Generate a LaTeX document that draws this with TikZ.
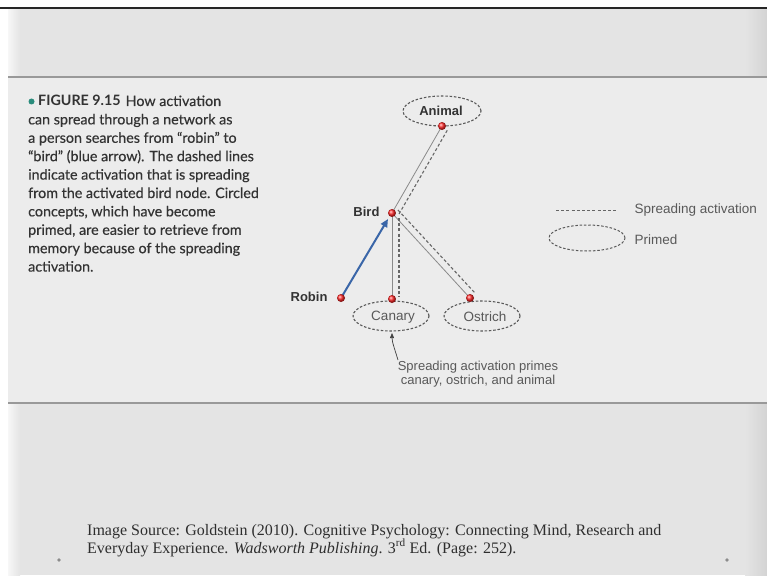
\documentclass[tikz,border=0pt]{standalone}
\usepackage{fontspec}
\setmainfont{Liberation Serif}
\setsansfont{Liberation Sans}
\newfontfamily\capfont[UprightFeatures={FakeBold=0.4}]{Lato}
\usetikzlibrary{arrows.meta,shapes.geometric,calc}
\definecolor{slidebg}{HTML}{E4E4E4}
\definecolor{panelbg}{HTML}{ECECEC}
\definecolor{captxt}{HTML}{333333}
\definecolor{teal}{HTML}{2A8C7C}
\definecolor{arrowblue}{HTML}{3A66A8}
\definecolor{linegray}{HTML}{8A8A8A}
\begin{document}
\begin{tikzpicture}[x=1pt,y=-1pt,
  capline/.style={anchor=base west,inner sep=0pt,text=captxt,font=\capfont\fontsize{14.3}{16}\selectfont},
  srcline/.style={anchor=base west,inner sep=0pt,text=captxt!90!black,font=\rmfamily\fontsize{16}{18}\selectfont},
  ball/.style={circle,inner sep=0pt,minimum size=8pt,shading=ball,ball color=red!85!white},
  boldlbl/.style={font=\sffamily\bfseries\fontsize{13}{15}\selectfont,text=black!80},
  lbl/.style={font=\sffamily\fontsize{13.5}{15}\selectfont,text=black!65},
  primed/.style={ellipse,draw=black!65,dashed,dash pattern=on 2.5pt off 1.8pt,line width=1.1pt,inner sep=0pt},
  solidlink/.style={draw=linegray,line width=0.8pt},
  spread/.style={draw=black!60,line width=1.1pt,dash pattern=on 3pt off 2.2pt},
  sep/.style={draw=black!40,line width=1.5pt}
]
\useasboundingbox (0,0) rectangle (767,575);
% background
\fill[white] (0,0) rectangle (767,575);
\fill[slidebg] (8,9) rectangle (767,575);
\shade[left color=slidebg,right color=black!17] (745,9) rectangle (767,575);
\shade[left color=white!70!slidebg,right color=slidebg] (8,9) rectangle (20,575);
\fill[panelbg] (8,78) rectangle (767,403);
\draw[black!85,line width=2pt] (0,8) -- (767,8);
\draw[sep] (8,77) -- (767,77);
\draw[sep] (8,403) -- (767,403);

% caption
\fill[teal] (31.5,101.5) circle (3);
\node[capline] at (38,106) {\textbf{FIGURE 9.15}\hspace{5pt}How activation};
\node[capline] at (28,124.4) {can spread through a network as};
\node[capline] at (28,142.8) {a person searches from “robin” to};
\node[capline] at (28,161.2) {“bird” (blue arrow). The dashed lines};
\node[capline] at (28,179.6) {indicate activation that is spreading};
\node[capline] at (28,198) {from the activated bird node. Circled};
\node[capline] at (28,216.4) {concepts, which have become};
\node[capline] at (28,234.8) {primed, are easier to retrieve from};
\node[capline] at (28,253.2) {memory because of the spreading};
\node[capline] at (28,271.6) {activation.};

% primed ellipses
\node[primed,minimum width=78pt,minimum height=30pt] (animalE) at (442,111) {};
\node[primed,minimum width=76pt,minimum height=30pt] (canaryE) at (391,316) {};
\node[primed,minimum width=76pt,minimum height=30pt] (ostrichE) at (482,316) {};
\node[boldlbl] at (441,111) {Animal};
\node[lbl] at (393,317) {Canary};
\node[lbl] at (485,317) {Ostrich};

% node positions
\coordinate (animal) at (442,126);
\coordinate (bird) at (392,213);
\coordinate (robin) at (341,298);
\coordinate (canary) at (392,299);
\coordinate (ostrich) at (470,298);

% links
\draw[solidlink] (bird) -- (animal);
\draw[solidlink] (bird) -- (canary);
\draw[solidlink] (bird) -- (ostrich);
\draw[spread] ($(bird)+(7,1)$) -- ($(animal)+(6,3)$);
\draw[spread] ($(bird)+(7,5)$) -- ($(canary)+(7,-2)$);
\draw[spread] ($(bird)+(6,-3)$) -- ($(ostrich)+(5,-5)$);
\draw[arrowblue,line width=2pt,-{Triangle[length=8pt,width=7pt]}] (robin) -- ($(bird)+(-4,6)$);

% balls
\node[ball] (animalB) at (animal) {};
\node[ball] (birdB) at (bird) {};
\node[ball] (robinB) at (robin) {};
\node[ball] (canaryB) at (canary) {};
\node[ball] (ostrichB) at (ostrich) {};
\node[boldlbl,anchor=east] at (383,212) {Bird};
\node[boldlbl,anchor=east] at (331,297) {Robin};

% annotation
\node[lbl,align=center,font=\sffamily\fontsize{13}{14}\selectfont] (note) at (478,374) {Spreading activation primes\\canary, ostrich, and animal};
\coordinate (noteTip) at (398,360);
\draw[black!75,line width=0.7pt,-{Triangle[length=5pt,width=4pt]}] (noteTip) .. controls (395,350) and (392,342) .. (392,333);

% legend
\coordinate (legA) at (556,210);
\coordinate (legB) at (617,210);
\draw[spread,line width=1pt] (legA) -- (legB);
\node[lbl,anchor=west] at (631,210) {Spreading activation};
\node[primed,minimum width=76pt,minimum height=26pt,line width=1pt] (legE) at (587,238) {};
\node[lbl,anchor=west] at (631,240) {Primed};

% source
\node[srcline] at (87,535) {Image Source: Goldstein (2010). Cognitive Psychology: Connecting Mind, Research and};
\node[srcline] at (87,553) {Everyday Experience. \textit{Wadsworth Publishing}. 3\textsuperscript{rd} Ed. (Page: 252).};
\fill[black!45] (59,560) circle (1.8);
\fill[black!45] (727,560) circle (1.8);
\end{tikzpicture}
\end{document}
